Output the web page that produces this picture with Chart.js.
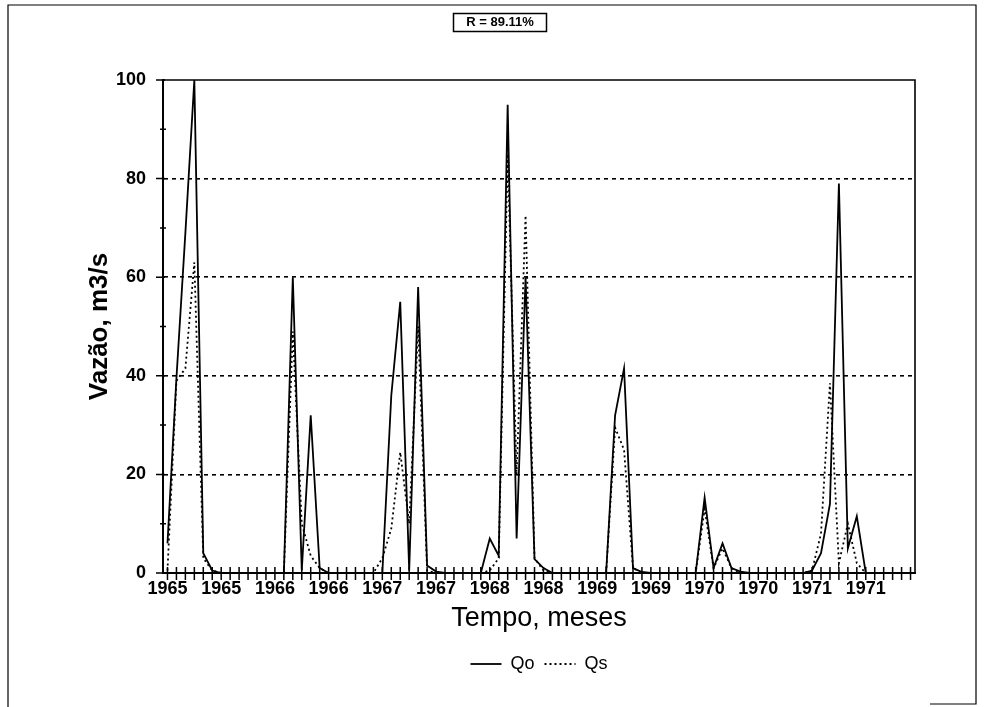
<!DOCTYPE html>
<html>
<head>
<meta charset="utf-8">
<script src="https://cdn.jsdelivr.net/npm/chart.js@4.4.1/dist/chart.umd.min.js"></script>
<style>
  html, body { margin: 0; padding: 0; background: #fff; }
  canvas { display: block; }
</style>
</head>
<body>
<canvas id="c" width="984" height="707"></canvas>
<script>
// ---- data ----
const years = ['1965', '1966', '1967', '1968', '1969', '1970', '1971'];
const months = ['jan', 'fev', 'mar', 'abr', 'mai', 'jun', 'jul', 'ago', 'set', 'out', 'nov', 'dez'];
const categories = years.flatMap(y => months.map(m => m + '/' + y));

// Observed discharge Qo (m3/s), monthly Jan 1965 .. Dec 1971
const qo = [
  6, 39.5, 69, 100, 4, 0.5, 0, 0, 0, 0, 0, 0,          // 1965
  0, 0, 60, 0.5, 32, 1, 0, 0, 0, 0, 0, 0,              // 1966
  0, 36, 55, 0.5, 58, 1.5, 0.3, 0, 0, 0, 0, 0,         // 1967
  7, 3.5, 95, 7, 60, 2.8, 1, 0, 0, 0, 0, 0,            // 1968
  0, 0, 32, 41.5, 1, 0.2, 0, 0, 0, 0, 0, 0,            // 1969
  15.3, 1, 6, 1, 0.3, 0, 0, 0, 0, 0, 0, 0,             // 1970
  0.5, 4, 14, 79, 5, 11.5, 0, 0, 0, 0, 0, 0            // 1971
];
// Simulated discharge Qs (m3/s)
const qs = [
  0.5, 39, 41.5, 63, 3, 0.5, 0, 0, 0, 0, 0, 0,
  0, 0, 49, 10, 3.5, 1, 0, 0, 0, 0, 0, 0,
  3, 9, 24.5, 10, 50, 0.5, 0, 0, 0, 0, 0, 0,
  0.5, 3, 85, 20, 72.5, 3, 0.5, 0, 0, 0, 0, 0,
  0, 0, 29.5, 25, 1, 0, 0, 0, 0, 0, 0, 0,
  13, 1, 5, 1, 0, 0, 0, 0, 0, 0, 0, 0,
  0.5, 8, 38.5, 2, 10, 2, 0, 0, 0, 0, 0, 0
];
const seriesNames = ['Qo', 'Qs'];
const yTickValues = [0, 20, 40, 60, 80, 100];
const rLabel = 'R = 89.11%';
const xTitle = 'Tempo, meses';
const yTitle = 'Vazão, m3/s';

const FONT = '"Liberation Sans", Arial, sans-serif';
Chart.defaults.font.family = FONT;
Chart.defaults.color = '#000';

const decor = {
  id: 'decor',
  afterDraw(chart) {
    const { ctx, chartArea: a, scales } = chart;
    const x = scales.x, y = scales.y;
    ctx.save();
    ctx.strokeStyle = '#000';
    ctx.setLineDash([]);
    // plot area top and right border
    ctx.lineWidth = 1.6;
    ctx.beginPath();
    ctx.moveTo(a.left, a.top);
    ctx.lineTo(a.right, a.top);
    ctx.lineTo(a.right, a.bottom);
    ctx.stroke();
    // x tick marks (crossing the axis)
    ctx.lineWidth = 1.5;
    ctx.beginPath();
    categories.forEach((_, i) => {
      const px = x.getPixelForValue(i);
      ctx.moveTo(px, a.bottom - 6);
      ctx.lineTo(px, a.bottom + 7);
    });
    ctx.stroke();
    // y tick marks: major and minor
    ctx.beginPath();
    for (let v = 0; v <= 100; v += 10) {
      const py = y.getPixelForValue(v);
      if (v % 20 === 0) { ctx.moveTo(a.left - 7, py); ctx.lineTo(a.left + 2, py); }
      else { ctx.moveTo(a.left - 3, py); ctx.lineTo(a.left + 3, py); }
    }
    ctx.stroke();
    // R box
    ctx.font = 'bold 13px ' + FONT;
    ctx.fillStyle = '#000';
    ctx.textAlign = 'center';
    ctx.textBaseline = 'middle';
    ctx.fillText(rLabel, 500, 22.5);
    ctx.lineWidth = 1.5;
    ctx.strokeRect(453.5, 13.5, 93, 18);
    // outer frame
    ctx.lineWidth = 1.2;
    ctx.beginPath();
    ctx.moveTo(8, 707);
    ctx.lineTo(8, 5);
    ctx.lineTo(976, 5);
    ctx.lineTo(976, 704);
    ctx.lineTo(930, 704);
    ctx.stroke();
    ctx.restore();
  }
};

new Chart(document.getElementById('c'), {
  type: 'line',
  data: {
    labels: categories,
    datasets: [
      { label: seriesNames[0], data: qo, borderColor: '#000', backgroundColor: '#000', borderWidth: 1.8,
        pointRadius: 0, pointStyle: 'line', tension: 0, fill: false },
      { label: seriesNames[1], data: qs, borderColor: '#000', backgroundColor: '#000', borderWidth: 1.8,
        borderDash: [2, 3], pointRadius: 0, pointStyle: 'line', tension: 0, fill: false }
    ]
  },
  options: {
    responsive: false,
    animation: false,
    devicePixelRatio: 1,
    layout: { padding: { left: 84, right: 69, top: 80, bottom: 24 } },
    plugins: {
      tooltip: { enabled: false },
      legend: {
        position: 'bottom',
        fullSize: false,
        labels: {
          usePointStyle: true,
          pointStyleWidth: 31,
          font: { size: 18, family: FONT },
          color: '#000',
          padding: 10,
          generateLabels: chart => {
            const items = Chart.defaults.plugins.legend.labels.generateLabels(chart);
            items.forEach(it => {
              const ds = chart.data.datasets[it.datasetIndex];
              it.lineDash = ds.borderDash || [];
              it.lineWidth = ds.borderWidth;
              it.strokeStyle = ds.borderColor;
            });
            return items;
          }
        }
      }
    },
    scales: {
      x: {
        type: 'category',
        offset: true,
        grid: { display: false, drawTicks: false },
        border: { display: true, color: '#000', width: 2 },
        ticks: {
          autoSkip: false, maxRotation: 0, minRotation: 0, padding: 5,
          font: { size: 18, weight: 'bold', family: FONT }, color: '#000',
          callback: (v, i) => (i % 6 === 0 ? categories[i].split('/')[1] : '')
        },
        title: { display: true, text: xTitle, font: { size: 27, family: FONT }, color: '#000', padding: { top: 0, bottom: 10 } },
        afterFit: s => { s.height = 72; }
      },
      y: {
        min: 0, max: 100,
        afterBuildTicks: s => { s.ticks = yTickValues.map(v => ({ value: v })); },
        grid: {
          drawTicks: false,
          lineWidth: 1.6,
          color: c => (c.tick && c.tick.value > 0 && c.tick.value < 100) ? '#000' : 'rgba(0,0,0,0)'
        },
        border: { display: true, color: '#000', width: 2, dash: [4, 4] },
        ticks: { padding: 17, font: { size: 18, weight: 'bold', family: FONT }, color: '#000' },
        title: { display: true, text: yTitle, font: { size: 26, weight: 'bold', family: FONT }, color: '#000', padding: { top: 0, bottom: 0 } },
        afterFit: s => { s.width = 79; }
      }
    }
  },
  plugins: [decor]
});
</script>
</body>
</html>
